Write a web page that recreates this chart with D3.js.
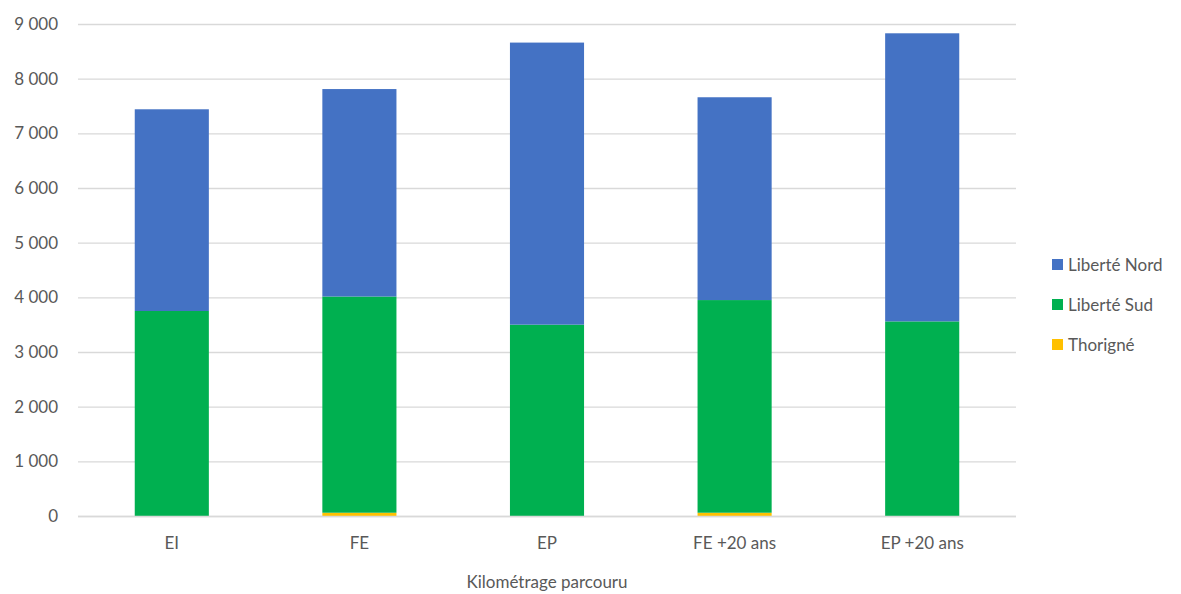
<!DOCTYPE html>
<html>
<head>
<meta charset="utf-8">
<script src="https://cdn.jsdelivr.net/npm/d3@7"></script>
<style>
  html, body { margin: 0; padding: 0; background: #fff; }
  svg { display: block; font-family: Lato, "Open Sans", sans-serif; }
</style>
</head>
<body>
<svg id="chart" width="1181" height="594"></svg>
<script>
// Categories (scenarios) along the x axis
const categories = ["EI", "FE", "EP", "FE +20 ans", "EP +20 ans"];

// Stacked series, bottom to top
const thorigne    = [0, 60, 0, 60, 0];
const liberteSud  = [3750, 3955, 3500, 3890, 3560];
const liberteNord = [3690, 3795, 5160, 3710, 5270];

const seriesNames  = ["Thorigné", "Liberté Sud", "Liberté Nord"];
const seriesColors = ["#FFC000", "#00B050", "#4472C4"];

// Legend order (top to bottom)
const legendOrder = ["Liberté Nord", "Liberté Sud", "Thorigné"];

const yTicks = [0, 1000, 2000, 3000, 4000, 5000, 6000, 7000, 8000, 9000];
const xTitle = "Kilométrage parcouru";

// Build rows for d3.stack
const rows = categories.map((c, i) => ({
  cat: c,
  "Thorigné": thorigne[i],
  "Liberté Sud": liberteSud[i],
  "Liberté Nord": liberteNord[i]
}));

const svg = d3.select("#chart");
const plotLeft = 78, plotRight = 1016, plotTop = 24, plotBottom = 516;

const x = d3.scaleBand().domain(categories).range([plotLeft, plotRight]).paddingInner(0.605).paddingOuter(0.3025);
const y = d3.scaleLinear().domain([0, 9000]).range([plotBottom, plotTop]);
const color = d3.scaleOrdinal().domain(seriesNames).range(seriesColors);

// Gridlines
svg.append("g")
  .selectAll("line")
  .data(yTicks)
  .join("line")
  .attr("x1", plotLeft).attr("x2", plotRight)
  .attr("y1", d => y(d) + 0.5).attr("y2", d => y(d) + 0.5)
  .attr("stroke", "#d9d9d9").attr("stroke-width", 1.3);

// Y axis labels
const yAxis = d3.axisLeft(y).tickValues(yTicks).tickSize(0).tickPadding(20)
  .tickFormat(d => d3.format(",")(d).replace(/,/g, " "));
svg.append("g")
  .attr("transform", `translate(${plotLeft},0)`)
  .call(yAxis)
  .call(g => g.select(".domain").remove())
  .call(g => g.selectAll("text").attr("fill", "#595959").attr("font-size", 17).attr("font-family", "Lato, sans-serif"));

// Stacked bars
const stacked = d3.stack().keys(seriesNames)(rows);
svg.append("g")
  .selectAll("g")
  .data(stacked)
  .join("g")
  .attr("fill", d => color(d.key))
  .selectAll("rect")
  .data(d => d)
  .join("rect")
  .attr("x", d => x(d.data.cat))
  .attr("width", x.bandwidth())
  .attr("y", d => y(d[1]))
  .attr("height", d => Math.max(0, y(d[0]) - y(d[1])));

// Baseline
svg.append("line")
  .attr("x1", plotLeft).attr("x2", plotRight)
  .attr("y1", plotBottom + 0.5).attr("y2", plotBottom + 0.5)
  .attr("stroke", "#d9d9d9").attr("stroke-width", 1.3);

// X axis labels
const xAxis = d3.axisBottom(x).tickSize(0).tickPadding(21);
svg.append("g")
  .attr("transform", `translate(0,${plotBottom})`)
  .call(xAxis)
  .call(g => g.select(".domain").remove())
  .call(g => g.selectAll("text").attr("fill", "#595959").attr("font-size", 17).attr("font-family", "Lato, sans-serif"));

// X axis title
svg.append("text")
  .attr("x", (plotLeft + plotRight) / 2)
  .attr("y", 588)
  .attr("text-anchor", "middle")
  .attr("fill", "#595959")
  .attr("font-size", 17)
  .text(xTitle);

// Legend
const legend = svg.append("g").attr("transform", "translate(1052,265)");
const li = legend.selectAll("g")
  .data(legendOrder)
  .join("g")
  .attr("transform", (d, i) => `translate(0,${i * 40})`);
li.append("rect")
  .attr("x", 0).attr("y", -6).attr("width", 11).attr("height", 11)
  .attr("fill", d => color(d));
li.append("text")
  .attr("x", 16).attr("y", 0)
  .attr("dy", "0.35em")
  .attr("fill", "#595959")
  .attr("font-size", 17)
  .text(d => d);
</script>
</body>
</html>
